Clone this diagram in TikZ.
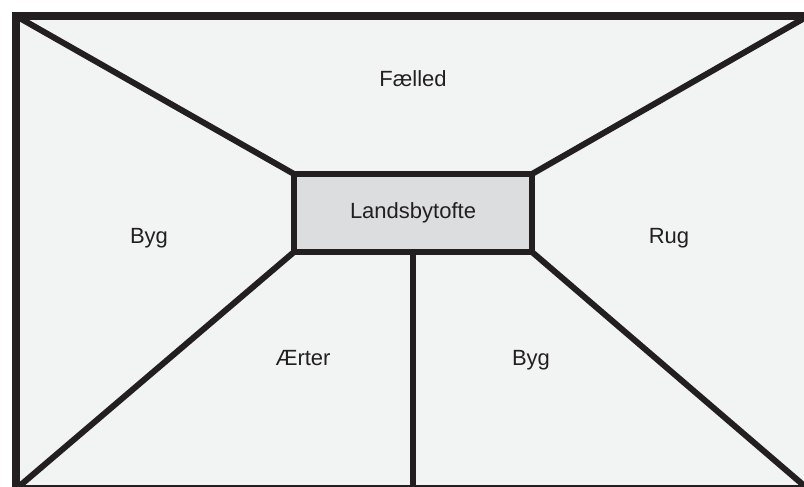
\documentclass[tikz,border=0pt]{standalone}
\usepackage{fontspec}
\setmainfont{Liberation Sans}
\usetikzlibrary{backgrounds}
\definecolor{ink}{HTML}{231F20}
\definecolor{field}{HTML}{F2F4F3}
\definecolor{toftfill}{HTML}{DCDDDF}
\begin{document}
\begin{tikzpicture}[x=1pt,y=-1pt,
    lbl/.style={font=\fontsize{22}{26}\selectfont, text=ink, anchor=base, inner sep=0pt},
    skel/.style={draw=ink, line width=6pt}]
    \useasboundingbox (0,0) rectangle (804,487);
    \coordinate (tl) at (16,16);
    \coordinate (tr) at (808,16);
    \coordinate (bl) at (16,489);
    \coordinate (br) at (808,489);
    \node[skel, fill=toftfill, outer sep=0pt, inner sep=0pt, minimum width=238pt, minimum height=78pt,
      font=\fontsize{22}{26}\selectfont, text=ink] (toft) at (413,213) {Landsbytofte};
    \begin{pgfonlayer}{background}
      \fill[white] (0,0) rectangle (804,487);
      \draw[ink, line width=8pt, fill=field] (tl) rectangle (br);
      \draw[skel] (tl) -- (toft.north west);
      \draw[skel] (tr) -- (toft.north east);
      \draw[skel] (bl) -- (toft.south west);
      \draw[skel] (br) -- (toft.south east);
      \draw[skel] (toft.south) -- (toft.south |- bl);
    \end{pgfonlayer}
    \node[lbl] (faelled) at (413,87) {Fælled};
    \node[lbl] (bygvest) at (149,243) {Byg};
    \node[lbl] (rug) at (669,243) {Rug};
    \node[lbl] (aerter) at (303,365) {Ærter};
    \node[lbl] (bygsyd) at (531,365) {Byg};
\end{tikzpicture}
\end{document}
